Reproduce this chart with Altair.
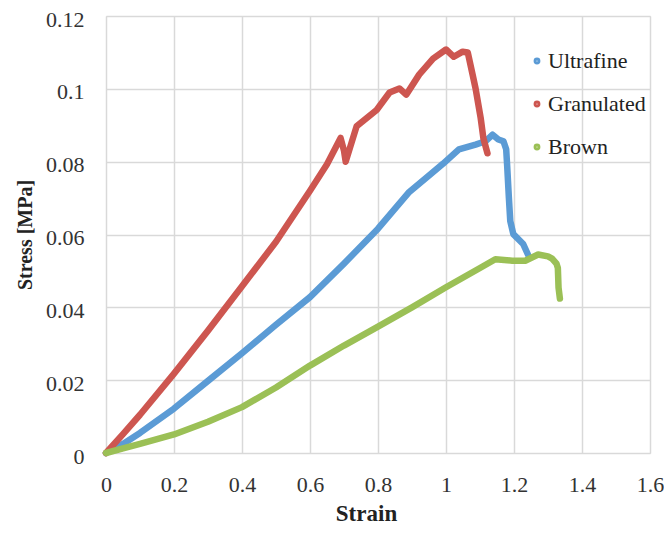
import altair as alt
import pandas as pd

# Ultrafine (blue)
ultra_strain = [0, 0.05, 0.1, 0.2, 0.3, 0.4, 0.5, 0.6, 0.7, 0.8, 0.892, 0.95, 0.991, 1.038, 1.087,
                1.116, 1.137, 1.154, 1.169, 1.177, 1.18, 1.185, 1.189, 1.198, 1.227, 1.242]
ultra_stress = [0, 0.0025, 0.0055, 0.0122, 0.0198, 0.0274, 0.0352, 0.0428, 0.052, 0.0616, 0.0717, 0.0762,
                0.0794, 0.0834, 0.0847, 0.0856, 0.0874, 0.0861, 0.0856, 0.0834, 0.0787, 0.070, 0.0637,
                0.0601, 0.0574, 0.0543]

# Granulated (red)
gran_strain = [0, 0.05, 0.1, 0.2, 0.3, 0.4, 0.5, 0.6, 0.65, 0.69, 0.70, 0.705, 0.737, 0.767, 0.796,
               0.834, 0.863, 0.883, 0.921, 0.962, 1.0, 1.023, 1.049, 1.064, 1.078, 1.087, 1.102,
               1.110, 1.122]
gran_stress = [0, 0.0052, 0.0105, 0.0218, 0.0336, 0.0458, 0.058, 0.072, 0.0793, 0.0865, 0.083, 0.080,
               0.0897, 0.092, 0.0942, 0.099, 0.1001, 0.0984, 0.1039, 0.1083, 0.1108, 0.1088,
               0.1102, 0.110, 0.104, 0.1001, 0.092, 0.0864, 0.0823]

# Brown (green)
brown_strain = [0, 0.05, 0.1, 0.2, 0.3, 0.4, 0.5, 0.6, 0.7, 0.8, 0.9, 1.0, 1.1, 1.145, 1.195, 1.233,
                1.271, 1.3, 1.312, 1.325, 1.329, 1.331, 1.335]
brown_stress = [0, 0.0013, 0.0025, 0.0051, 0.0086, 0.0126, 0.0180, 0.0240, 0.0295, 0.0347, 0.0400, 0.0455,
                0.0508, 0.0532, 0.0528, 0.0528, 0.0545, 0.0540, 0.0534, 0.052, 0.0508, 0.0454, 0.0424]

series = ["Ultrafine", "Granulated", "Brown"]
colors = ["#5b9bd5", "#cd5650", "#9bc056"]
x_ticks = [0, 0.2, 0.4, 0.6, 0.8, 1.0, 1.2, 1.4, 1.6]
y_ticks = [0, 0.02, 0.04, 0.06, 0.08, 0.1, 0.12]

rows = []
for name, xs, ys in [("Ultrafine", ultra_strain, ultra_stress),
                     ("Granulated", gran_strain, gran_stress),
                     ("Brown", brown_strain, brown_stress)]:
    for i, (a, b) in enumerate(zip(xs, ys)):
        rows.append({"Series": name, "Strain": a, "Stress": b, "idx": i})
df = pd.DataFrame(rows)

FONT = "Liberation Serif"
FS = 22

chart = alt.Chart(df).mark_line(strokeWidth=6.5, strokeCap="round", strokeJoin="round").encode(
    x=alt.X("Strain:Q", scale=alt.Scale(domain=[0, 1.6], nice=False),
            axis=alt.Axis(values=x_ticks, title="Strain",
                          labelExpr="format(datum.value, '.1~f')", grid=True,
                          gridColor="#d9d9d9", gridWidth=1.5, domain=False, ticks=False,
                          labelFont=FONT, labelFontSize=FS, labelColor="#333333", labelPadding=21,
                          labelFlush=False, labelOverlap=False,
                          titleFont=FONT, titleFontSize=23, titleFontWeight="bold", titleColor="#222222",
                          titlePadding=7, titleX=260)),
    y=alt.Y("Stress:Q", scale=alt.Scale(domain=[0, 0.12], nice=False),
            axis=alt.Axis(values=y_ticks, title="Stress [MPa]",
                          labelExpr="format(datum.value, '.2~f')", grid=True,
                          gridColor="#d9d9d9", gridWidth=1.5, domain=False, ticks=False,
                          labelFont=FONT, labelFontSize=FS, labelColor="#333333", labelPadding=22,
                          labelOffset=3, labelFlush=False, labelOverlap=False,
                          titleFont=FONT, titleFontSize=20, titleFontWeight="bold", titleColor="#222222",
                          titlePadding=10)),
    color=alt.Color("Series:N", scale=alt.Scale(domain=series, range=colors),
                    legend=alt.Legend(title=None, orient="none", legendX=420, legendY=34,
                                      symbolType="circle", symbolSize=8, symbolStrokeWidth=4,
                                      labelFont=FONT, labelFontSize=FS, labelColor="#222222",
                                      rowPadding=21, labelOffset=0)),
    order=alt.Order("idx:Q"),
).properties(
    width=544, height=437,
    autosize=alt.AutoSizeParams(type="none"),
    padding={"left": 98, "top": 8, "right": 14, "bottom": 72},
).configure_view(stroke="#d9d9d9", strokeWidth=1.5).configure(background="white")

chart.save("out.html", embed_options={"renderer": "svg", "actions": False})
